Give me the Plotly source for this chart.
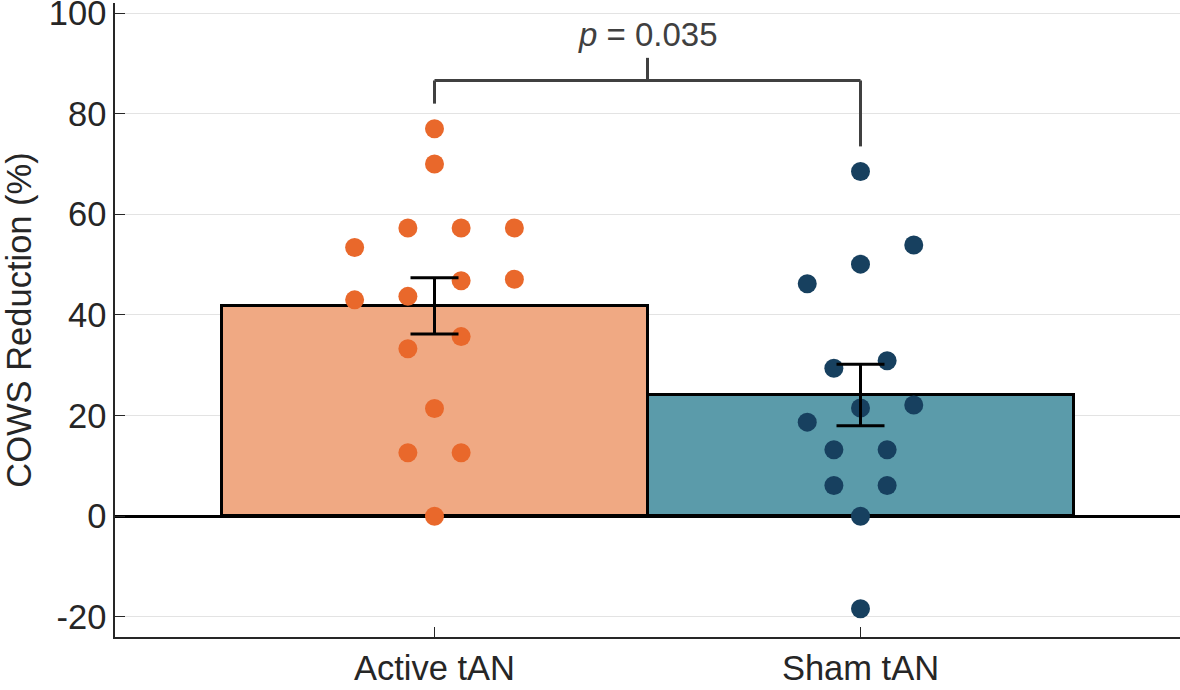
import plotly.graph_objects as go

# ---- data ----
categories = ["Active tAN", "Sham tAN"]
bar_means = [41.8, 24.1]
bar_sem = [5.6, 6.1]

active_values = [77.0, 70.0, 57.3, 57.3, 57.3, 53.4, 47.1, 46.8, 43.7, 43.0,
                 35.7, 33.3, 21.4, 12.6, 12.6, 0.0]
active_jitter = [0.0, 0.0, -0.0625, 0.0625, 0.1875, -0.1875, 0.1875, 0.0625, -0.0625, -0.1875,
                 0.0625, -0.0625, 0.0, -0.0625, 0.0625, 0.0]

sham_values = [68.5, 53.9, 50.1, 46.2, 30.9, 29.4, 22.1, 21.5, 18.7, 13.2,
               13.2, 6.1, 6.1, 0.0, -18.4]
sham_jitter = [0.0, 0.125, 0.0, -0.125, 0.0625, -0.0625, 0.125, 0.0, -0.125, -0.0625,
               0.0625, -0.0625, 0.0625, 0.0, 0.0]

p_label = "<i>p</i> = 0.035"

yticks = [-20, 0, 20, 40, 60, 80, 100]
ytick_text = ["-20", "0", "20", "40", "60", "80", "100"]

# ---- styles ----
bar_fill = ["#F0A983", "#5B9BAA"]
point_col = ["#E9682B", "#17405F"]
ink = "#262626"
bracket_col = "#404040"
font_family = "Liberation Sans, Arial, Helvetica, sans-serif"
FS = 34.5

fig = go.Figure()

fig.add_trace(go.Bar(
    x=[0, 1], y=bar_means, width=1.0,
    marker=dict(color=bar_fill, line=dict(color="black", width=3)),
    showlegend=False, hoverinfo="skip",
))

fig.add_trace(go.Scatter(
    x=[0 + j for j in active_jitter], y=active_values, mode="markers",
    marker=dict(size=19, color=point_col[0], line=dict(width=0)),
    showlegend=False,
))
fig.add_trace(go.Scatter(
    x=[1 + j for j in sham_jitter], y=sham_values, mode="markers",
    marker=dict(size=19, color=point_col[1], line=dict(width=0)),
    showlegend=False,
))

fig.add_trace(go.Scatter(
    x=[0, 1], y=bar_means, mode="markers",
    marker=dict(size=0.1, color="rgba(0,0,0,0)"),
    error_y=dict(type="data", array=bar_sem, color="black", thickness=3, width=24),
    showlegend=False,
))

# significance bracket derived from data
left_end = max(active_values) + 5
right_end = max(sham_values) + 5
top = max(max(active_values), max(sham_values)) + 9.6
mid_top = top + 4.5
for x0, y0, x1, y1 in [(0, left_end, 0, top), (0, top, 1, top), (1, top, 1, right_end),
                       (0.5, top, 0.5, mid_top)]:
    fig.add_shape(type="line", xref="x", yref="y", x0=x0, y0=y0, x1=x1, y1=y1,
                  line=dict(color=bracket_col, width=3))

fig.add_annotation(x=0.5, y=mid_top + 0.6, xref="x", yref="y", text=p_label,
                   showarrow=False, yanchor="bottom",
                   font=dict(size=33, color=bracket_col, family=font_family))

fig.update_layout(
    width=1180, height=690,
    margin=dict(l=115, r=0, t=3, b=53),
    plot_bgcolor="white", paper_bgcolor="white",
    font=dict(family=font_family, size=FS, color=ink),
    bargap=0,
    xaxis=dict(
        range=[-0.75, 1.75], tickmode="array", tickvals=[0, 1], ticktext=categories,
        showline=True, linecolor=ink, linewidth=1.5, ticks="inside", ticklen=10,
        tickcolor=ink, showgrid=False, zeroline=False, tickfont=dict(size=FS, color=ink),
        automargin=False,
    ),
    yaxis=dict(
        range=[-24, 102], tickmode="array", tickvals=yticks, ticktext=ytick_text,
        showline=True, linecolor=ink, linewidth=1.5, ticks="inside", ticklen=10,
        tickcolor=ink, showgrid=True, gridcolor="#E3E3E3", gridwidth=1,
        zeroline=True, zerolinecolor="black", zerolinewidth=3,
        title=dict(text="COWS Reduction (%)", font=dict(size=FS, color=ink), standoff=14),
        tickfont=dict(size=FS, color=ink), ticklabeloverflow="allow",
        automargin=False,
    ),
)

fig.write_html(
    "out.html",
    config={"displayModeBar": False},
    post_script="document.body.style.margin='0';document.body.style.overflow='hidden';",
)
